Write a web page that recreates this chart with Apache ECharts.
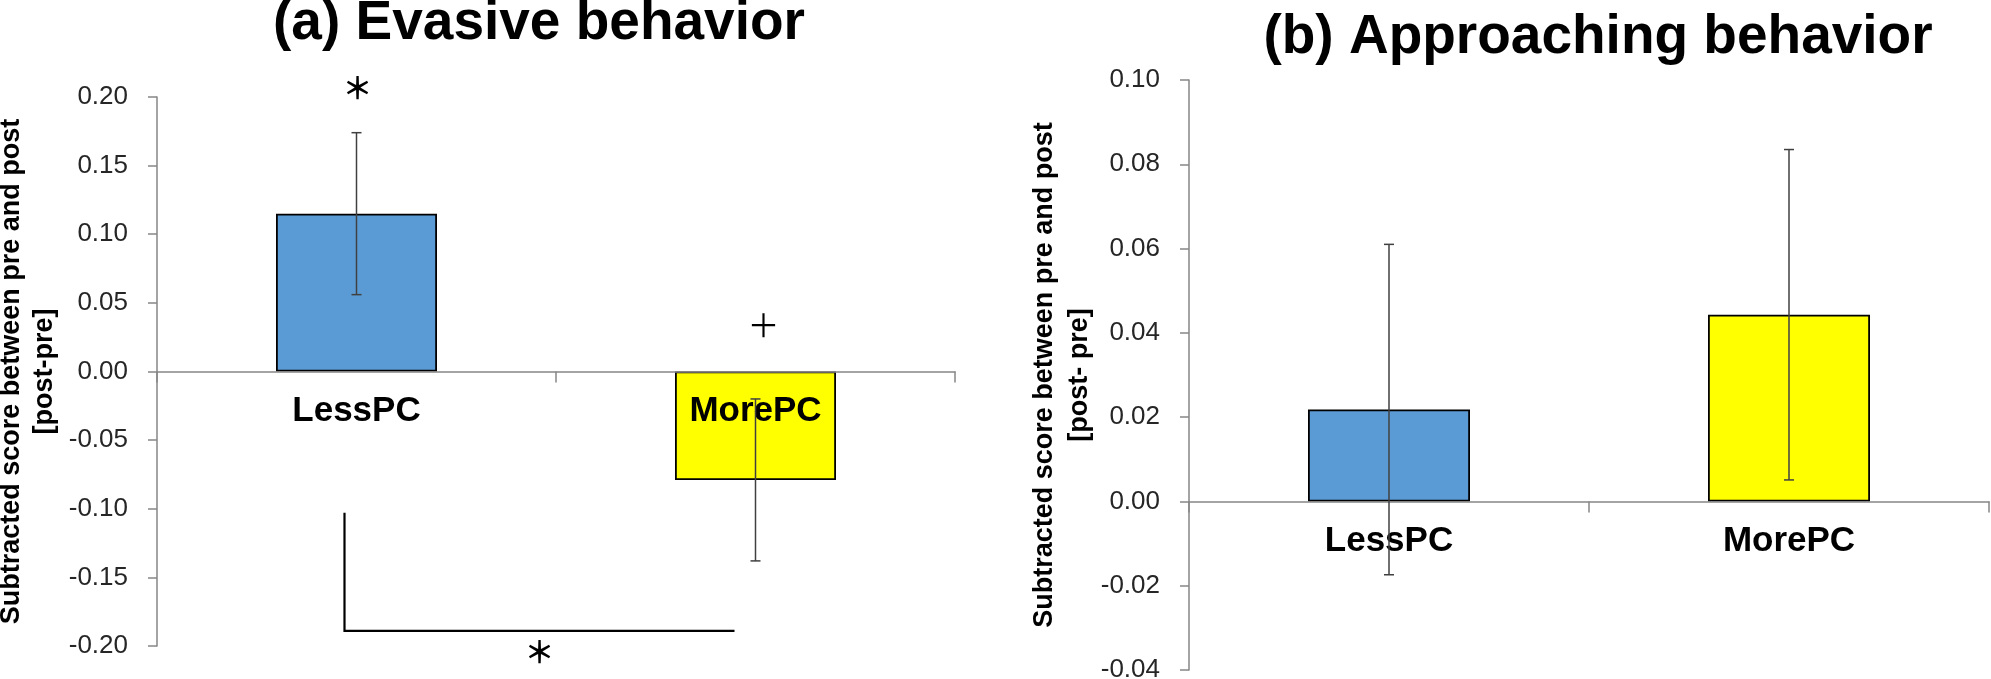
<!DOCTYPE html>
<html>
<head>
<meta charset="utf-8">
<title>Evasive / Approaching behavior</title>
<script src="https://cdn.jsdelivr.net/npm/echarts@6/dist/echarts.min.js"></script>
<style>
  html, body { margin: 0; padding: 0; background: #fff; }
  #main { width: 1991px; height: 679px; }
</style>
</head>
<body>
<div id="main"></div>
<script>
  // categories and values
  const categories = ['LessPC', 'MorePC'];

  const evasiveMean = [0.115, -0.079];
  const evasiveErr = [0.059, 0.059];

  const approachMean = [0.0218, 0.0443];
  const approachErr = [0.0392, 0.0392];

  // axis ranges
  const evasiveAxis = { min: -0.2, max: 0.2, interval: 0.05 };
  const approachAxis = { min: -0.04, max: 0.1, interval: 0.02 };

  // significance marks on panel (a)
  const markCats = [0, 1];
  const markValues = [0.2065, 0.034];
  const markText = ['＊', '+'];
  const bracketCats = [0, 1];
  const bracketTop = -0.103;
  const bracketBottom = -0.189;
  const bracketStarValue = -0.204;

  const barColors = ['#5B9BD5', '#FFFF00'];
  const FONT = '"Liberation Sans", Arial, sans-serif';
  const CJK = '"Noto Sans CJK JP", sans-serif';

  const gridA = { left: 157, top: 97, width: 798, height: 549 };
  const gridB = { left: 1189, top: 80, width: 800, height: 590 };

  // the category axis sits on the zero line, so shift it up from the grid bottom
  function zeroOffset(grid, ax) {
    return -grid.height * (0 - ax.min) / (ax.max - ax.min);
  }

  function barData(values) {
    return values.map((v, i) => ({
      value: v,
      itemStyle: { color: barColors[i], borderColor: '#000', borderWidth: 1.8 }
    }));
  }

  function errData(mean, err) {
    return mean.map((m, i) => [i, m - err[i], m + err[i]]);
  }

  function renderErr(params, api) {
    const lo = api.coord([api.value(0), api.value(1)]);
    const hi = api.coord([api.value(0), api.value(2)]);
    const cap = 5;
    const style = { stroke: '#404040', lineWidth: 1.5 };
    return {
      type: 'group',
      children: [
        { type: 'line', shape: { x1: hi[0], y1: hi[1], x2: lo[0], y2: lo[1] }, style: style },
        { type: 'line', shape: { x1: hi[0] - cap, y1: hi[1], x2: hi[0] + cap, y2: hi[1] }, style: style },
        { type: 'line', shape: { x1: lo[0] - cap, y1: lo[1], x2: lo[0] + cap, y2: lo[1] }, style: style }
      ]
    };
  }

  const yName = (txt, gap, lh) => ({
    name: txt,
    nameLocation: 'middle',
    nameRotate: 90,
    nameGap: gap,
    nameTextStyle: { fontFamily: FONT, fontSize: 27, fontWeight: 'bold', color: '#000', lineHeight: lh }
  });

  const valueAxisBase = {
    type: 'value',
    splitLine: { show: false },
    axisLine: { show: true, lineStyle: { color: '#868686', width: 1.5 } },
    axisTick: { show: true, length: 9, lineStyle: { color: '#868686', width: 1.5 } },
    axisLabel: {
      fontFamily: FONT, fontSize: 26, color: '#262626', margin: 29,
      formatter: v => v.toFixed(2)
    }
  };

  const catAxisBase = {
    type: 'category',
    data: categories,
    position: 'bottom',
    z: 3,
    axisLine: { onZero: false, lineStyle: { color: '#868686', width: 1.5 } },
    axisTick: { show: true, length: 11, interval: 0, lineStyle: { color: '#868686', width: 1.5 } },
    axisLabel: {
      fontFamily: FONT, fontSize: 35, fontWeight: 'bold', color: '#000',
      margin: 20, lineHeight: 40, interval: 0
    }
  };

  const chart = echarts.init(document.getElementById('main'));

  const option = {
    backgroundColor: '#fff',
    animation: false,
    graphic: [
      {
        type: 'text', x: 539, y: 24,
        style: { text: '(a) Evasive behavior', fontFamily: FONT, fontSize: 55, fontWeight: 'bold',
                 fill: '#000', textAlign: 'center', textVerticalAlign: 'middle' }
      },
      {
        type: 'text', x: 1598, y: 38,
        style: { text: '(b) Approaching behavior', fontFamily: FONT, fontSize: 55, fontWeight: 'bold',
                 fill: '#000', textAlign: 'center', textVerticalAlign: 'middle' }
      }
    ],
    grid: [
      Object.assign({ outerBoundsMode: 'none', containLabel: false }, gridA),
      Object.assign({ outerBoundsMode: 'none', containLabel: false }, gridB)
    ],
    xAxis: [
      Object.assign({}, catAxisBase, { gridIndex: 0, offset: zeroOffset(gridA, evasiveAxis) }),
      Object.assign({}, catAxisBase, { gridIndex: 1, offset: zeroOffset(gridB, approachAxis) })
    ],
    yAxis: [
      Object.assign({}, valueAxisBase, evasiveAxis,
        yName('Subtracted score between pre and post\n[post-pre]', 96, 33), { gridIndex: 0 }),
      Object.assign({}, valueAxisBase, approachAxis,
        yName('Subtracted score between pre and post\n[post- pre]', 92, 35), { gridIndex: 1 })
    ],
    series: [
      {
        type: 'bar', xAxisIndex: 0, yAxisIndex: 0,
        barWidth: 161, data: barData(evasiveMean)
      },
      {
        type: 'bar', xAxisIndex: 1, yAxisIndex: 1,
        barWidth: 162, data: barData(approachMean)
      },
      {
        type: 'custom', xAxisIndex: 0, yAxisIndex: 0, z: 5,
        renderItem: renderErr, encode: { x: 0, y: [1, 2] },
        data: errData(evasiveMean, evasiveErr)
      },
      {
        type: 'custom', xAxisIndex: 1, yAxisIndex: 1, z: 5,
        renderItem: renderErr, encode: { x: 0, y: [1, 2] },
        data: errData(approachMean, approachErr)
      },
      {
        // significance marks above the bars
        type: 'custom', xAxisIndex: 0, yAxisIndex: 0, z: 6, clip: false,
        encode: { x: 0, y: 1 },
        data: markCats.map((c, i) => [c, markValues[i]]),
        renderItem: function (params, api) {
          const p = api.coord([api.value(0), api.value(1)]);
          const isPlus = markText[params.dataIndex] === '+';
          return {
            type: 'text',
            x: p[0] + (isPlus ? 8 : 1), y: p[1],
            style: {
              text: isPlus ? '＋' : markText[params.dataIndex],
              fontFamily: CJK,
              fontSize: isPlus ? 32 : 30,
              fontWeight: isPlus ? 'normal' : 'bold',
              fill: '#000', textAlign: 'center', textVerticalAlign: 'middle'
            }
          };
        }
      },
      {
        // bracket between groups with its star
        type: 'custom', xAxisIndex: 0, yAxisIndex: 0, z: 6, clip: false,
        encode: { x: [0, 1], y: [2, 3] },
        data: [[bracketCats[0], bracketCats[1], bracketTop, bracketBottom, bracketStarValue]],
        renderItem: function (params, api) {
          const a = api.coord([api.value(0), api.value(2)]);
          const b = api.coord([api.value(1), api.value(3)]);
          const s = api.coord([api.value(0), api.value(4)]);
          const x1 = a[0] - 12, x2 = b[0] - 21;
          const st = { stroke: '#000', lineWidth: 2.2, fill: null };
          return {
            type: 'group',
            children: [
              { type: 'polyline', shape: { points: [[x1, a[1]], [x1, b[1]], [x2, b[1]]] }, style: st },
              {
                type: 'text', x: (x1 + x2) / 2, y: s[1],
                style: { text: '＊', fontFamily: CJK, fontSize: 30, fontWeight: 'bold',
                         fill: '#000', textAlign: 'center', textVerticalAlign: 'middle' }
              }
            ]
          };
        }
      }
    ]
  };

  chart.setOption(option);
</script>
</body>
</html>
